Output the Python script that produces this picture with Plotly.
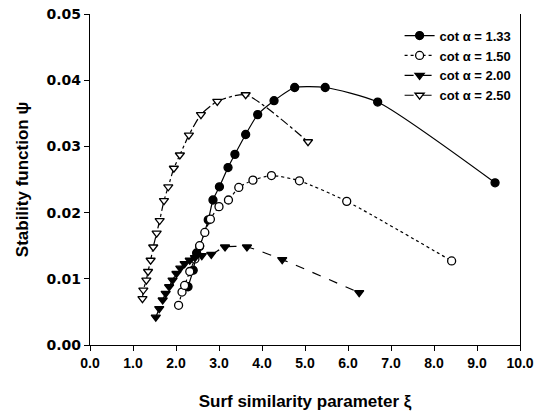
import plotly.graph_objects as go

x133 = [2.28, 2.40, 2.48, 2.55, 2.75, 2.86, 3.01, 3.21, 3.37, 3.62, 3.90, 4.28, 4.76, 5.47, 6.69, 9.42]
y133 = [0.0088, 0.0113, 0.0139, 0.0149, 0.0189, 0.0219, 0.0239, 0.0268, 0.0288, 0.0318, 0.0348, 0.0369, 0.0389, 0.0389, 0.0367, 0.0245]

x150 = [2.06, 2.14, 2.20, 2.32, 2.44, 2.55, 2.67, 2.80, 3.00, 3.22, 3.46, 3.79, 4.22, 4.87, 5.97, 8.41]
y150 = [0.0060, 0.0080, 0.0090, 0.0111, 0.0130, 0.0150, 0.0170, 0.0190, 0.0209, 0.0219, 0.0238, 0.0249, 0.0256, 0.0248, 0.0217, 0.0127]

x200 = [1.53, 1.61, 1.69, 1.76, 1.84, 1.92, 2.01, 2.10, 2.20, 2.32, 2.44, 2.60, 2.82, 3.14, 3.65, 4.47, 6.26]
y200 = [0.0042, 0.0055, 0.0068, 0.0078, 0.0088, 0.0098, 0.0108, 0.0116, 0.0123, 0.0128, 0.0132, 0.0135, 0.0137, 0.0148, 0.0148, 0.0129, 0.0079]

x250 = [1.22, 1.24, 1.31, 1.35, 1.41, 1.47, 1.55, 1.62, 1.72, 1.82, 1.95, 2.09, 2.30, 2.58, 2.96, 3.62, 5.07]
y250 = [0.0070, 0.0083, 0.0098, 0.0111, 0.0128, 0.0148, 0.0169, 0.0188, 0.0218, 0.0239, 0.0267, 0.0287, 0.0317, 0.0348, 0.0368, 0.0378, 0.0307]

names = ["cot \u03b1 = 1.33", "cot \u03b1 = 1.50", "cot \u03b1 = 2.00", "cot \u03b1 = 2.50"]
xticks = [0, 1, 2, 3, 4, 5, 6, 7, 8, 9, 10]
xticklabels = ["0.0", "1.0", "2.0", "3.0", "4.0", "5.0", "6.0", "7.0", "8.0", "9.0", "10.0"]
yticks = [0.00, 0.01, 0.02, 0.03, 0.04, 0.05]
yticklabels = ["0.00", "0.01", "0.02", "0.03", "0.04", "0.05"]

FONT = "Liberation Sans, Arial, sans-serif"
TICKFONT = "DejaVu Sans, Liberation Sans, sans-serif"

fig = go.Figure()
specs = [
    (x133, y133, names[0], "solid", "circle", "black"),
    (x150, y150, names[1], "dot", "circle", "white"),
    (x200, y200, names[2], "dash", "triangle-down", "black"),
    (x250, y250, names[3], "dashdot", "triangle-down", "white"),
]
for xs, ys, nm, dash, sym, fill in specs:
    fig.add_trace(go.Scatter(
        x=xs, y=ys, name=nm, mode="lines+markers",
        line=dict(color="black", width=1.2, dash=dash, shape="spline", smoothing=0.6),
        marker=dict(symbol=sym, size=8, color=fill, line=dict(color="black", width=1.3)),
    ))

fig.update_layout(
    width=535, height=417,
    margin=dict(l=90, r=15, t=14, b=72),
    paper_bgcolor="white", plot_bgcolor="white",
    font=dict(family=FONT, size=14, color="black", weight="bold"),
    legend=dict(x=0.72, y=0.98, xanchor="left", yanchor="top",
                bgcolor="rgba(0,0,0,0)", borderwidth=0,
                font=dict(family=FONT, size=13, weight="bold"),
                tracegroupgap=0, itemwidth=30),
    showlegend=True,
)
fig.update_xaxes(
    range=[0, 10], tickmode="array", tickvals=xticks, ticktext=xticklabels,
    automargin=False, ticklabeloverflow="allow",
    showgrid=False, zeroline=False, showline=True, linecolor="black", linewidth=1.2,
    ticks="outside", ticklen=5, tickwidth=1.2, tickcolor="black",
    tickfont=dict(family=FONT, size=14, weight="bold"),
    title=dict(text="Surf similarity parameter \u03be", standoff=25,
               font=dict(family=FONT, size=17, weight="bold")),
)
fig.update_yaxes(
    range=[0, 0.05], tickmode="array", tickvals=yticks, ticktext=yticklabels,
    automargin=False, ticklabeloverflow="allow",
    showgrid=False, zeroline=False, showline=True, linecolor="black", linewidth=1.2,
    mirror=True,
    ticks="outside", ticklen=5, tickwidth=1.2, tickcolor="black",
    tickfont=dict(family=TICKFONT, size=14, weight="bold"),
    title=dict(text="Stability function \u03c8", standoff=13,
               font=dict(family=FONT, size=17, weight="bold")),
)

# remove the browser's default 8px body margin so the figure fills the 535x417 window
fig.write_html("out.html",
               config={"displayModeBar": False},
               post_script="document.body.style.margin='0';document.body.style.overflow='hidden';")
